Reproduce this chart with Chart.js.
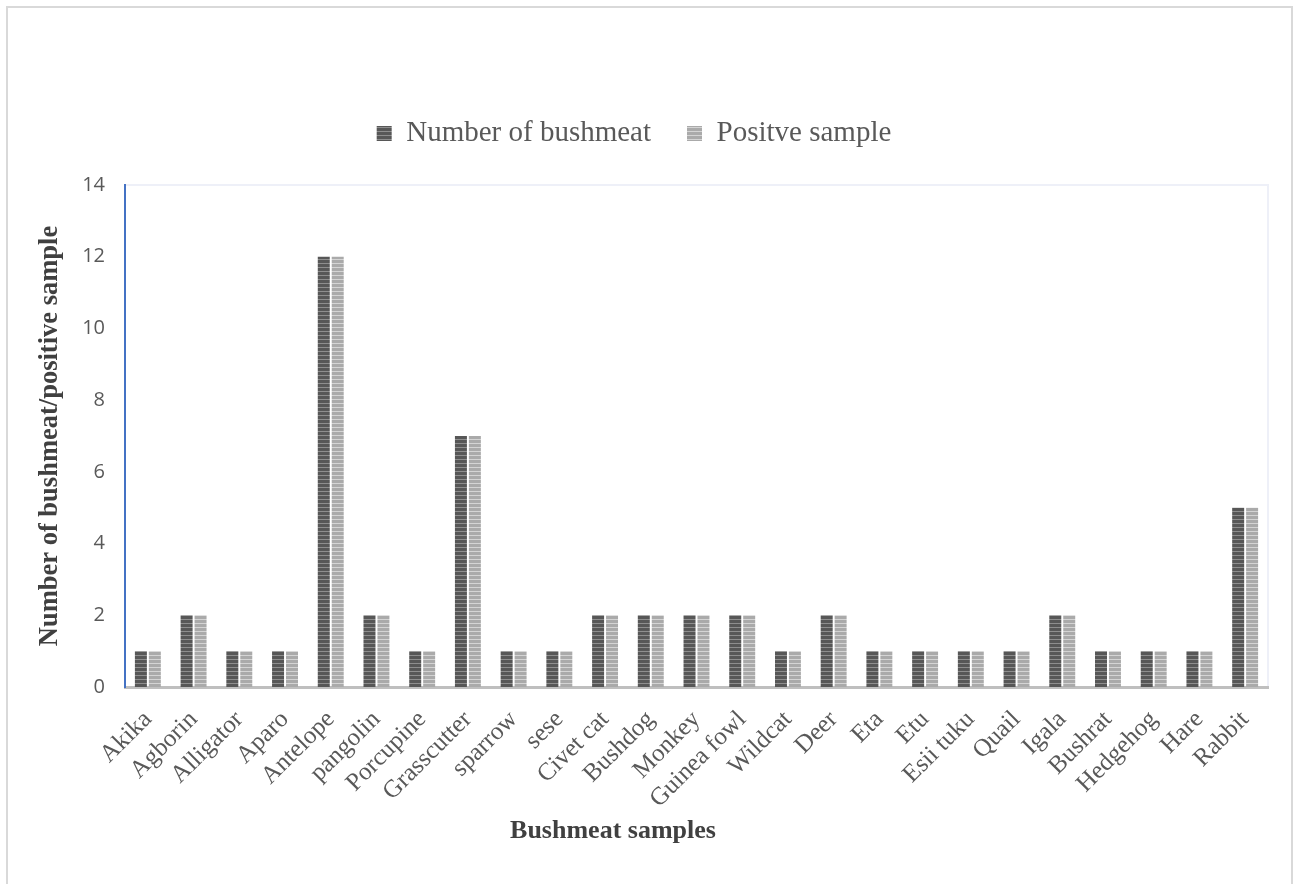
<!DOCTYPE html>
<html>
<head>
<meta charset="utf-8">
<title>Bushmeat samples</title>
<script src="https://cdn.jsdelivr.net/npm/chart.js@4/dist/chart.umd.min.js"></script>
<style>
  html, body { margin: 0; padding: 0; background: #ffffff; }
  #wrap { width: 1296px; height: 884px; position: relative; }
  canvas { display: block; }
</style>
</head>
<body>
<div id="wrap"><canvas id="chart" width="1296" height="884"></canvas></div>
<script>
// Species sampled
const categories = [
  'Akika', 'Agborin', 'Alligator', 'Aparo', 'Antelope', 'pangolin', 'Porcupine',
  'Grasscutter', 'sparrow', 'sese', 'Civet cat', 'Bushdog', 'Monkey', 'Guinea fowl',
  'Wildcat', 'Deer', 'Eta', 'Etu', 'Esii tuku', 'Quail', 'Igala', 'Bushrat',
  'Hedgehog', 'Hare', 'Rabbit'
];

// Number of bushmeat samples collected per species
const bushmeatCount = [1, 2, 1, 1, 12, 2, 1, 7, 1, 1, 2, 2, 2, 2, 1, 2, 1, 1, 1, 1, 2, 1, 1, 1, 5];

// Samples that tested positive per species
const positiveCount = [1, 2, 1, 1, 12, 2, 1, 7, 1, 1, 2, 2, 2, 2, 1, 2, 1, 1, 1, 1, 2, 1, 1, 1, 5];

// Value axis ticks
const yTicks = [0, 2, 4, 6, 8, 10, 12, 14];

const seriesNames = ['Number of bushmeat', 'Positve sample'];
const xTitle = 'Bushmeat samples';
const yTitle = 'Number of bushmeat/positive sample';

// Horizontal stripe fill: a tall band in one tone, a thin band in another
function stripes(main, alt) {
  const c = document.createElement('canvas');
  c.width = 4; c.height = 4;
  const g = c.getContext('2d');
  g.fillStyle = main; g.fillRect(0, 0, 4, 3);
  g.fillStyle = alt;  g.fillRect(0, 3, 4, 1);
  return g.createPattern(c, 'repeat');
}

const ctx = document.getElementById('chart').getContext('2d');
const darkFill = stripes('#575757', '#8e8e8e');
const lightFill = stripes('#aaaaaa', '#d4d4d4');

// Page frame, plot-area outline and the horizontal axis title
const decorations = {
  id: 'decorations',
  beforeInit(chart) {
    // leave room between the legend row and the plot area
    const legend = chart.legend;
    if (legend) {
      const fit = legend.fit;
      legend.fit = function () { fit.call(this); this.height += 27; };
    }
  },
  beforeDraw(chart) {
    const c = chart.ctx;
    const a = chart.chartArea;
    c.save();
    c.strokeStyle = '#d9d9d9';
    c.lineWidth = 2;
    c.strokeRect(7, 7, 1285, 900);
    c.strokeStyle = '#eef0f8';
    c.lineWidth = 2;
    c.beginPath();
    c.moveTo(a.left, a.top);
    c.lineTo(a.right, a.top);
    c.lineTo(a.right, a.bottom);
    c.stroke();
    c.restore();
  },
  afterDraw(chart) {
    const c = chart.ctx;
    c.save();
    c.font = 'bold 26px "Liberation Serif", "Times New Roman", serif';
    c.fillStyle = '#404040';
    c.textAlign = 'center';
    c.textBaseline = 'middle';
    c.fillText(xTitle, 613, 831);
    c.restore();
  }
};

new Chart(ctx, {
  type: 'bar',
  data: {
    labels: categories,
    datasets: [
      {
        label: seriesNames[0],
        data: bushmeatCount,
        backgroundColor: darkFill,
        borderWidth: 0,
        categoryPercentage: 0.61,
        barPercentage: 0.86
      },
      {
        label: seriesNames[1],
        data: positiveCount,
        backgroundColor: lightFill,
        borderWidth: 0,
        categoryPercentage: 0.61,
        barPercentage: 0.86
      }
    ]
  },
  options: {
    responsive: false,
    animation: false,
    devicePixelRatio: 1,
    layout: { padding: { top: 83, right: 28, bottom: 0, left: 0 } },
    plugins: {
      legend: {
        display: true,
        position: 'top',
        labels: {
          boxWidth: 15,
          boxHeight: 15,
          padding: 36,
          color: '#595959',
          font: { family: '"Liberation Serif", "Times New Roman", serif', size: 29 }
        }
      },
      tooltip: { enabled: false },
      title: { display: false }
    },
    scales: {
      x: {
        offset: true,
        grid: { display: false, drawTicks: false },
        border: { display: true, color: '#bfbfbf', width: 3 },
        ticks: {
          autoSkip: false,
          minRotation: 45,
          maxRotation: 45,
          padding: 18,
          color: '#595959',
          font: { family: '"Liberation Serif", "Times New Roman", serif', size: 25 }
        },
        afterFit(scale) { scale.height = 197; }
      },
      y: {
        min: 0,
        max: 14,
        grid: { display: false, drawTicks: false },
        border: { display: true, color: '#4472c4', width: 2 },
        afterBuildTicks(scale) { scale.ticks = yTicks.map(v => ({ value: v })); },
        ticks: {
          padding: 20,
          color: '#595959',
          font: { family: '"Open Sans", "Liberation Sans", sans-serif', size: 20 }
        },
        title: {
          display: true,
          text: yTitle,
          color: '#404040',
          padding: { top: 34, bottom: 0 },
          font: { family: '"Liberation Serif", "Times New Roman", serif', size: 26.5, weight: 'bold' }
        },
        afterFit(scale) { scale.width = 125; }
      }
    }
  },
  plugins: [decorations]
});
</script>
</body>
</html>
